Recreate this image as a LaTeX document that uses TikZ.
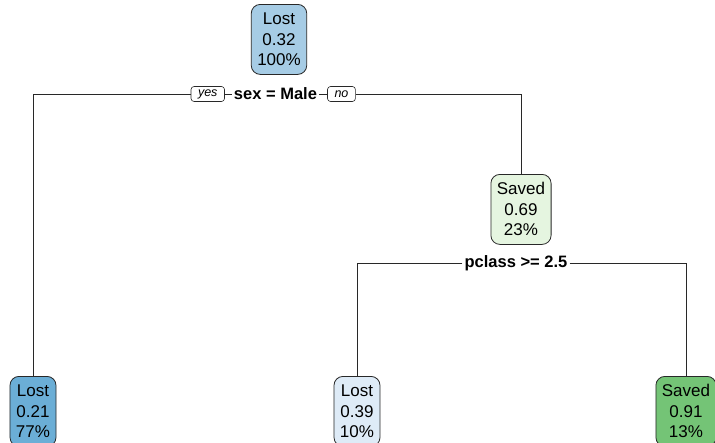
\documentclass[tikz,border=0pt]{standalone}
\usepackage{fontspec}
\setmainfont{Liberation Sans}
\usepackage{tikz}
\usetikzlibrary{positioning}
\definecolor{lostmid}{RGB}{166,204,229}
\definecolor{lostdark}{RGB}{107,174,214}
\definecolor{lostlight}{RGB}{222,235,247}
\definecolor{savedlight}{RGB}{229,245,224}
\definecolor{saveddark}{RGB}{116,196,118}
\definecolor{edgegray}{RGB}{40,40,40}

\begin{document}
\begin{tikzpicture}[
    x=1pt, y=-1pt,
    leaf/.style={rectangle, rounded corners=9pt, draw=edgegray, line width=0.8pt, align=center, inner xsep=6pt, inner ysep=4pt, minimum height=70pt, font=\fontsize{17}{20.5}\selectfont},
    splitlabel/.style={fill=white, inner xsep=2pt, inner ysep=1pt, font=\bfseries\fontsize{16.5}{18}\selectfont},
    yesno/.style={rectangle, rounded corners=3pt, draw=edgegray, fill=white, line width=0.6pt, inner xsep=7pt, inner ysep=1pt, minimum height=15pt, font=\itshape\fontsize{12.5}{14}\selectfont},
    edge/.style={draw=edgegray, line width=0.8pt}
]
\useasboundingbox (0,0) rectangle (715,442);
\clip (0,0) rectangle (715,442);

% Nodes
\node (root) [leaf, fill=lostmid, anchor=north] at (279,4) {Lost\\0.32\\100\%};
\node (sex) [splitlabel] at (275.5,94) {sex = Male};
\node (yes) [yesno, left=7pt of sex] {yes};
\node (no) [yesno, right=8pt of sex] {no};
\node (female) [leaf, fill=savedlight, anchor=north] at (521,174) {Saved\\0.69\\23\%};
\node (pclass) [splitlabel] at (516,263) {pclass >= 2.5};
\node (male) [leaf, fill=lostdark, anchor=north] at (33,376) {Lost\\0.21\\77\%};
\node (third) [leaf, fill=lostlight, anchor=north] at (357,376) {Lost\\0.39\\10\%};
\node (upper) [leaf, fill=saveddark, anchor=north] at (686,376) {Saved\\0.91\\13\%};

% Edges
\draw [edge] (yes.east) -- (sex.west);
\draw [edge] (sex.east) -- (no.west);
\draw [edge] (yes.west) -| (male.north);
\draw [edge] (no.east) -| (female.north);
\draw [edge] (pclass.west) -| (third.north);
\draw [edge] (pclass.east) -| (upper.north);

\end{tikzpicture}
\end{document}
